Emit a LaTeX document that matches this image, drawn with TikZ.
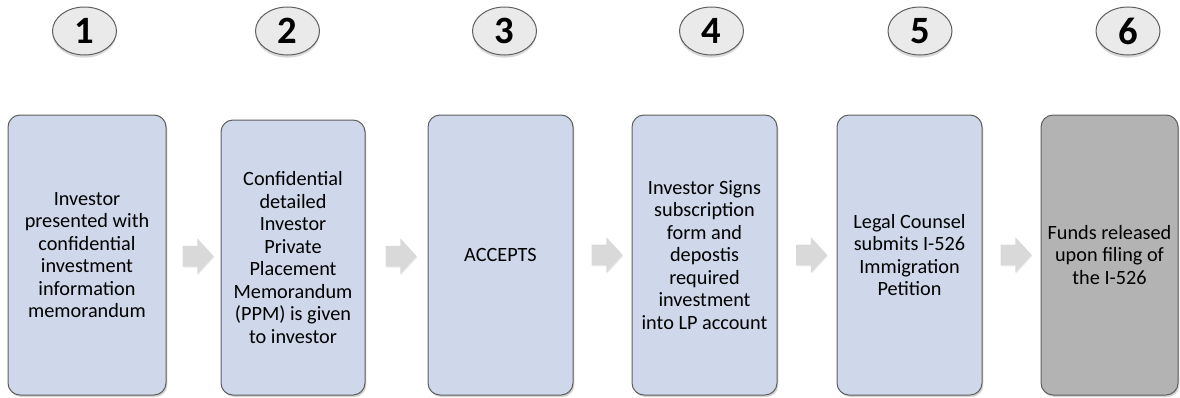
\documentclass[tikz,border=0pt]{standalone}
\usepackage{fontspec}
\setmainfont{Carlito}
\usetikzlibrary{shapes.geometric,shapes.arrows,shadows,calc}
\definecolor{stepblue}{RGB}{206,216,234}
\definecolor{stepgray}{RGB}{179,179,179}
\definecolor{ovalgray}{RGB}{234,234,234}
\definecolor{edgegray}{RGB}{95,95,95}
\definecolor{arrowgray}{RGB}{217,217,217}
\begin{document}
\begin{tikzpicture}[x=0.75pt, y=-0.75pt,
  numoval/.style={ellipse, draw=edgegray, line width=0.75pt, fill=ovalgray, minimum width=48pt, minimum height=36pt, inner sep=0pt, font=\fontsize{29}{30}\selectfont\bfseries, drop shadow={shadow xshift=0pt, shadow yshift=-2pt, opacity=0.3}},
  stepbox/.style={draw=edgegray, line width=0.75pt, fill=stepblue, rounded corners=9pt, minimum width=108.75pt, minimum height=210pt, inner sep=2pt, align=center, font=\fontsize{15.2}{16.9}\selectfont, drop shadow={shadow xshift=1pt, shadow yshift=-1.5pt, opacity=0.35}},
  flowarrow/.style={single arrow, fill=arrowgray, draw=none, minimum height=23.25pt, inner sep=0pt, inner ysep=7.5pt, single arrow head extend=5.6pt, single arrow tip angle=95, drop shadow={shadow xshift=0.5pt, shadow yshift=-0.8pt, opacity=0.15}}]
\useasboundingbox (0,0) rectangle (1180,397);
\node[numoval] (n1) at (84.5,31) {1};
\node[numoval] (n2) at (287.5,31) {2};
\node[numoval] (n3) at (504.5,31) {3};
\node[numoval] (n4) at (711.5,31) {4};
\node[numoval] (n5) at (920,31) {5};
\node[numoval] (n6) at (1128,31) {6};

\node[stepbox, minimum width=118.5pt] (s1) at (87,255) {Investor\\presented with\\confidential\\investment\\information\\memorandum};
\node[stepbox, minimum width=108pt, minimum height=206.25pt] (s2) at (293,257.5) {Confidential\\detailed\\Investor\\Private\\Placement\\Memorandum\\(PPM) is given\\to investor};
\node[stepbox] (s3) at (500.5,255) {ACCEPTS};
\node[stepbox] (s4) at (704.5,255) {Investor Signs\\subscription\\form and\\depostis\\required\\investment\\into LP account};
\node[stepbox] (s5) at (909.5,255) {Legal Counsel\\submits I-526\\Immigration\\Petition};
\node[stepbox, fill=stepgray, minimum width=102.75pt] (s6) at (1109.5,255) {Funds released\\upon filing of\\the I-526};

\node[flowarrow] (a1) at ($(s1.east)!0.5!(s2.west)$) {};
\node[flowarrow] (a2) at ($(s2.east)!0.5!(s3.west)$) {};
\node[flowarrow] (a3) at ($(s3.east)!0.5!(s4.west)$) {};
\node[flowarrow] (a4) at ($(s4.east)!0.5!(s5.west)$) {};
\node[flowarrow] (a5) at ($(s5.east)!0.5!(s6.west)$) {};
\end{tikzpicture}
\end{document}
